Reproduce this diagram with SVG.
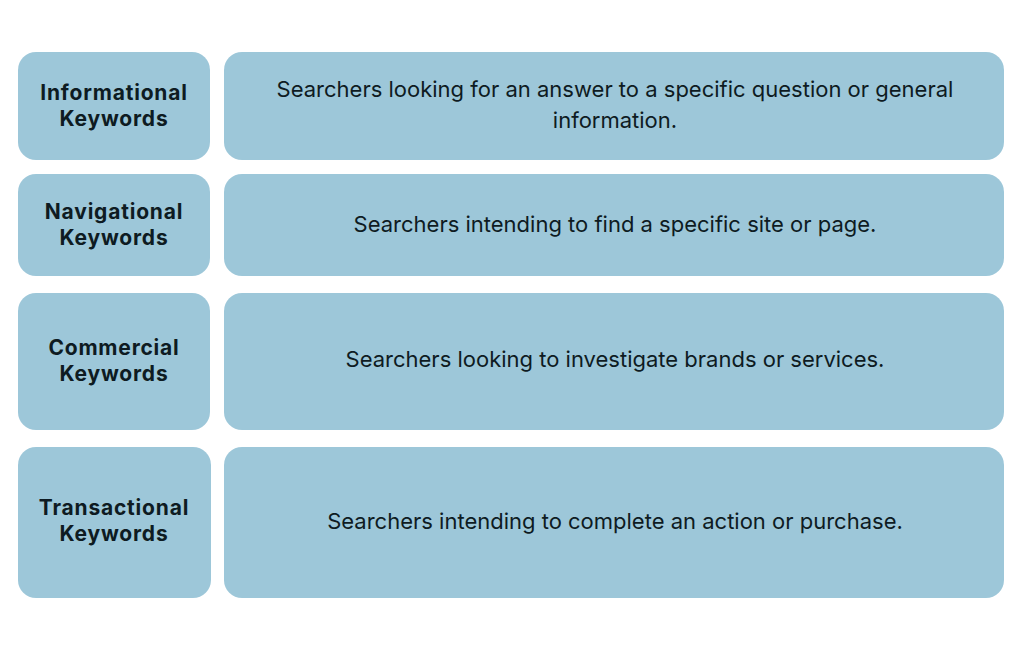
<svg xmlns="http://www.w3.org/2000/svg" width="1024" height="650" viewBox="0 0 1024 650">
<style>
.box{fill:#9dc7d9}
.lbl{font-family:Inter,"Open Sans",sans-serif;font-weight:700;font-size:21px;letter-spacing:0.8px;fill:#0e1b22;text-anchor:middle}
.desc{font-family:Inter,"Open Sans",sans-serif;font-weight:400;font-size:22px;fill:#0e1b22;text-anchor:middle}
</style>
<rect width="1024" height="650" fill="#ffffff"/>
<g id="informational">
<rect class="box" x="18" y="52" width="192" height="108" rx="18"/>
<text class="lbl" x="114" y="100">Informational</text>
<text class="lbl" x="114" y="126">Keywords</text>
</g>
<g id="informational-desc">
<rect class="box" x="224" y="52" width="780" height="108" rx="18"/>
<text class="desc" x="615" y="97">Searchers looking for an answer to a specific question or general</text>
<text class="desc" x="615" y="128">information.</text>
</g>
<g id="navigational">
<rect class="box" x="18" y="174" width="192" height="102" rx="18"/>
<text class="lbl" x="114" y="219">Navigational</text>
<text class="lbl" x="114" y="245">Keywords</text>
</g>
<g id="navigational-desc">
<rect class="box" x="224" y="174" width="780" height="102" rx="18"/>
<text class="desc" x="615" y="232">Searchers intending to find a specific site or page.</text>
</g>
<g id="commercial">
<rect class="box" x="18" y="293" width="192" height="137" rx="18"/>
<text class="lbl" x="114" y="355">Commercial</text>
<text class="lbl" x="114" y="381">Keywords</text>
</g>
<g id="commercial-desc">
<rect class="box" x="224" y="293" width="780" height="137" rx="18"/>
<text class="desc" x="615" y="367">Searchers looking to investigate brands or services.</text>
</g>
<g id="transactional">
<rect class="box" x="18" y="447" width="193" height="151" rx="18"/>
<text class="lbl" x="114" y="515">Transactional</text>
<text class="lbl" x="114" y="541">Keywords</text>
</g>
<g id="transactional-desc">
<rect class="box" x="224" y="447" width="780" height="151" rx="18"/>
<text class="desc" x="615" y="529">Searchers intending to complete an action or purchase.</text>
</g>
<g id="connectors"/>
</svg>
